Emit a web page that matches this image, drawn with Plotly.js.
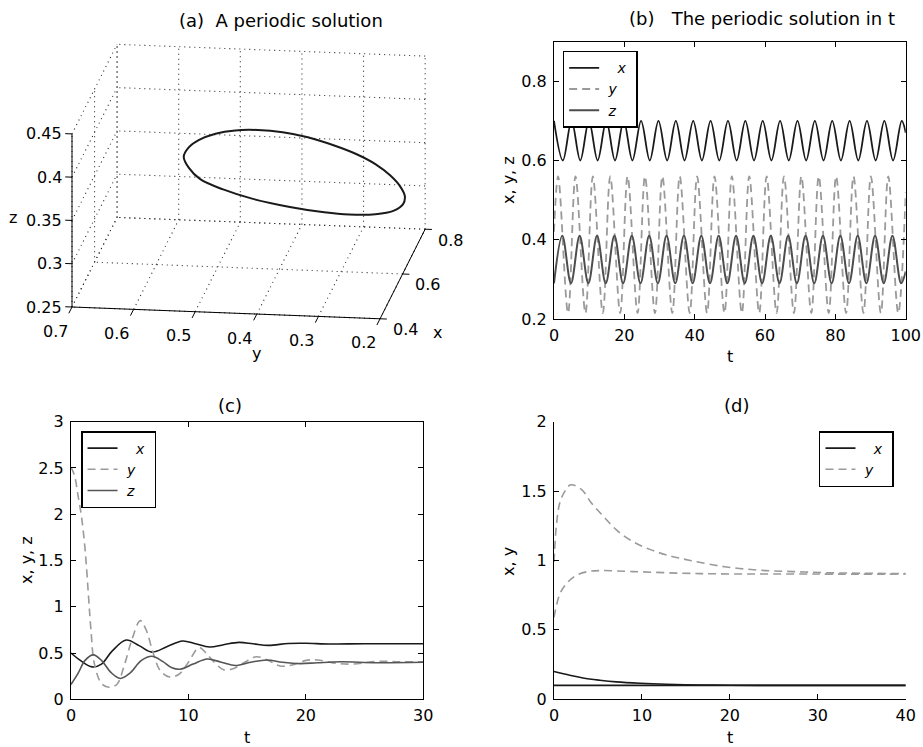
<!DOCTYPE html>
<html>
<head>
<meta charset="utf-8">
<script src="https://cdn.plot.ly/plotly-3.0.1.min.js"></script>
<style>html,body{margin:0;padding:0;background:#fff;}#chart{width:923px;height:747px;}</style>
</head>
<body>
<div id="chart"></div>
<script>
// ---- (a) periodic orbit in (x, y, z) ----
const aLoopX = [0.700,0.698,0.693,0.685,0.675,0.663,0.650,0.637,0.625,0.615,0.607,0.602,0.600,0.602,0.607,0.615,0.625,0.637,0.650,0.663,0.675,0.685,0.693,0.698,0.700];
const aLoopY = [0.305,0.345,0.400,0.460,0.505,0.540,0.556,0.562,0.552,0.533,0.505,0.472,0.435,0.395,0.355,0.316,0.280,0.251,0.229,0.215,0.210,0.215,0.232,0.262,0.305];
const aLoopZ = [0.290,0.292,0.298,0.308,0.320,0.334,0.350,0.366,0.380,0.392,0.402,0.408,0.410,0.408,0.402,0.392,0.380,0.366,0.350,0.334,0.320,0.308,0.298,0.292,0.290];
const aTicksX = [0.4,0.6,0.8];
const aTicksY = [0.7,0.6,0.5,0.4,0.3,0.2];
const aTicksZ = [0.25,0.3,0.35,0.4,0.45];

// ---- (b) periodic solution in t (turning points) ----
const bTx = [0,2.53,5.00,7.47,9.94,12.41,14.88,17.35,19.82,22.29,24.76,27.23,29.70,32.17,34.64,37.11,39.58,42.05,44.52,46.99,49.46,51.93,54.40,56.87,59.34,61.81,64.28,66.75,69.22,71.69,74.16,76.63,79.10,81.57,84.04,86.51,88.98,91.45,93.92,96.39,98.86,100];
const bX  = [0.70,0.60,0.70,0.60,0.70,0.60,0.70,0.60,0.70,0.60,0.70,0.60,0.70,0.60,0.70,0.60,0.70,0.60,0.70,0.60,0.70,0.60,0.70,0.60,0.70,0.60,0.70,0.60,0.70,0.60,0.70,0.60,0.70,0.60,0.70,0.60,0.70,0.60,0.70,0.60,0.70,0.67];
const bTy = [0,1.17,4.00,6.11,8.94,11.05,13.88,15.99,18.82,20.93,23.76,25.87,28.70,30.81,33.64,35.75,38.58,40.69,43.52,45.63,48.46,50.57,53.40,55.51,58.34,60.45,63.28,65.39,68.22,70.33,73.16,75.27,78.10,80.21,83.04,85.15,87.98,90.09,92.92,95.03,97.86,100];
const bY  = [0.42,0.56,0.215,0.56,0.215,0.56,0.215,0.56,0.215,0.56,0.215,0.56,0.215,0.56,0.215,0.56,0.215,0.56,0.215,0.56,0.215,0.56,0.215,0.56,0.215,0.56,0.215,0.56,0.215,0.56,0.215,0.56,0.215,0.56,0.215,0.56,0.215,0.56,0.215,0.56,0.215,0.52];
const bTz = [0,2.36,4.83,7.30,9.77,12.24,14.71,17.18,19.65,22.12,24.59,27.06,29.53,32.00,34.47,36.94,39.41,41.88,44.35,46.82,49.29,51.76,54.23,56.70,59.17,61.64,64.11,66.58,69.05,71.52,73.99,76.46,78.93,81.40,83.87,86.34,88.81,91.28,93.75,96.22,98.69,100];
const bZ  = [0.29,0.41,0.29,0.41,0.29,0.41,0.29,0.41,0.29,0.41,0.29,0.41,0.29,0.41,0.29,0.41,0.29,0.41,0.29,0.41,0.29,0.41,0.29,0.41,0.29,0.41,0.29,0.41,0.29,0.41,0.29,0.41,0.29,0.41,0.29,0.41,0.29,0.41,0.29,0.41,0.29,0.32];

// ---- (c) damped convergence ----
const cTx = [0,0.8,1.8,2.6,3.5,4.7,5.8,6.9,8.2,9.5,10.6,11.8,13,14.3,15.5,16.8,18.5,20,22,25,30];
const cX  = [0.50,0.42,0.35,0.38,0.52,0.64,0.58,0.51,0.57,0.63,0.60,0.565,0.59,0.615,0.60,0.582,0.603,0.605,0.597,0.60,0.60];
const cTy = [0,0.3,0.6,0.9,1.2,1.5,1.7,2.0,2.6,3.2,3.9,4.5,5.2,5.9,6.4,7.0,7.6,8.4,9.2,10.0,10.9,11.5,12.2,13.0,13.8,14.8,15.8,16.8,17.8,18.8,20,21,22.5,24,26,28,30];
const cY  = [2.51,2.42,2.2,1.97,1.62,1.1,0.75,0.38,0.17,0.13,0.16,0.35,0.65,0.85,0.75,0.5,0.31,0.24,0.27,0.4,0.56,0.5,0.4,0.32,0.33,0.4,0.46,0.42,0.36,0.37,0.42,0.425,0.39,0.38,0.41,0.405,0.405];
const cTz = [0,0.6,1.2,1.9,2.6,3.4,4.2,5.0,6.0,6.9,7.8,8.6,9.3,10.4,11.6,12.8,14,15.3,16.7,18,19.5,21,23,26,30];
const cZ  = [0.16,0.28,0.42,0.48,0.42,0.29,0.225,0.28,0.42,0.465,0.41,0.34,0.325,0.38,0.435,0.40,0.365,0.40,0.425,0.40,0.385,0.395,0.405,0.395,0.40];

// ---- (d) two trajectories ----
const dTx1 = [0,1.8,3.3,5.2,7.1,9.8,12.8,16.6,20,25,30,40];
const dX1  = [0.20,0.173,0.153,0.137,0.125,0.115,0.108,0.103,0.101,0.1,0.1,0.1];
const dTx2 = [0,40];
const dX2  = [0.1,0.1];
const dTy1 = [0,0.3,0.68,1.25,1.9,3.15,4.3,5.6,7.1,9.0,10.9,12.8,15.5,19.4,23.4,27.2,31,35,40];
const dY1  = [0.99,1.27,1.42,1.50,1.545,1.51,1.41,1.32,1.22,1.135,1.08,1.04,1.0,0.955,0.93,0.92,0.912,0.908,0.905];
const dTy2 = [0,0.68,1.44,2.4,3.7,5.2,9,14.7,20,30,40];
const dY2  = [0.59,0.76,0.835,0.888,0.918,0.927,0.92,0.908,0.903,0.902,0.902];

const NB = '\u00a0';
const names = {x: NB+NB+NB+'<i>x</i>'+NB, y: NB+'<i>y</i>'+NB, z: NB+'<i>z</i>'+NB};

const FONT = 'DejaVu Sans, Liberation Sans, Arial, sans-serif';
const colX = '#1a1a1a', colY = '#9a9a9a', colZ = '#4d4d4d';
const DASH = '8px,5px';

// ---- orthographic view for panel (a), MATLAB-like view ----
const AZ = -7.9 * Math.PI / 180, EL = 16 * Math.PI / 180;
const ASPECT = {x:1.055, y:1, z:0.579};
const XR = [0.4,0.8], YR = [0.2,0.7], ZR = [0.25,0.45];
function proj(x, y, z){
  const X = (x - XR[0]) / (XR[1] - XR[0]) * ASPECT.x;
  const Y = (y - YR[0]) / (YR[1] - YR[0]) * ASPECT.y;
  const Z = (z - ZR[0]) / (ZR[1] - ZR[0]) * ASPECT.z;
  return [-Math.sin(AZ) * X - Math.cos(AZ) * Y,
          Math.sin(EL) * Math.cos(AZ) * X - Math.sin(EL) * Math.sin(AZ) * Y + Math.cos(EL) * Z];
}
function segs(list){ // list of [[x,y,z],[x,y,z]] -> u,v arrays with gaps
  const u = [], v = [];
  list.forEach(s => { s.forEach(p => { const q = proj(p[0],p[1],p[2]); u.push(q[0]); v.push(q[1]); }); u.push(null); v.push(null); });
  return {u, v};
}
// grid on the three back planes
const gridList = [];
aTicksY.forEach(y => gridList.push([[XR[1],y,ZR[0]],[XR[1],y,ZR[1]]]));
aTicksZ.forEach(z => gridList.push([[XR[1],YR[0],z],[XR[1],YR[1],z]]));
aTicksX.forEach(x => gridList.push([[x,YR[1],ZR[0]],[x,YR[1],ZR[1]]]));
aTicksZ.forEach(z => gridList.push([[XR[0],YR[1],z],[XR[1],YR[1],z]]));
aTicksX.forEach(x => gridList.push([[x,YR[0],ZR[0]],[x,YR[1],ZR[0]]]));
aTicksY.forEach(y => gridList.push([[XR[0],y,ZR[0]],[XR[1],y,ZR[0]]]));
const grid = segs(gridList);
// axis lines and ticks
const axisList = [
  [[XR[0],YR[1],ZR[0]],[XR[0],YR[1],ZR[1]]],
  [[XR[0],YR[1],ZR[0]],[XR[0],YR[0],ZR[0]]],
  [[XR[0],YR[0],ZR[0]],[XR[1],YR[0],ZR[0]]]
];
aTicksZ.forEach(z => axisList.push([[XR[0],YR[1],z],[XR[0],YR[1]+0.011,z]]));
aTicksY.forEach(y => axisList.push([[XR[0],y,ZR[0]],[XR[0]-0.028,y,ZR[0]]]));
aTicksX.forEach(x => axisList.push([[x,YR[0],ZR[0]],[x,YR[0]-0.011,ZR[0]]]));
const axl = segs(axisList);
const loopU = [], loopV = [];
aLoopX.forEach((x,i) => { const q = proj(x, aLoopY[i], aLoopZ[i]); loopU.push(q[0]); loopV.push(q[1]); });

// hidden axes for panel (a): 311 px per projected unit, box corner at page (72,307)
const PX = 311;
const o = proj(XR[0], YR[1], ZR[0]);
const aDomX = [0, 460/923], aDomY = [1 - 370/747, 1];
const aRangeU = [o[0] - 72/PX, o[0] + (460 - 72)/PX];
const aRangeV = [o[1] - (370 - 307)/PX, o[1] + 307/PX];

const traces = [
  {type:'scatter', mode:'lines', x:grid.u, y:grid.v, xaxis:'x4', yaxis:'y4', showlegend:false, hoverinfo:'skip',
   line:{color:'#2a2a2a', width:1.1, dash:'1px,4px'}, connectgaps:false},
  {type:'scatter', mode:'lines', x:axl.u, y:axl.v, xaxis:'x4', yaxis:'y4', showlegend:false, hoverinfo:'skip',
   line:{color:'#000', width:1}, connectgaps:false},
  {type:'scatter', mode:'lines', x:loopU, y:loopV, xaxis:'x4', yaxis:'y4', showlegend:false, hoverinfo:'skip',
   line:{color:'#1a1a1a', width:2, shape:'spline'}},

  {type:'scatter', mode:'lines', x:bTx, y:bX, xaxis:'x', yaxis:'y', name:names.x, legend:'legend',
   line:{color:colX, width:1.8, shape:'spline'}},
  {type:'scatter', mode:'lines', x:bTy, y:bY, xaxis:'x', yaxis:'y', name:names.y, legend:'legend',
   line:{color:colY, width:1.8, shape:'spline', dash:DASH}},
  {type:'scatter', mode:'lines', x:bTz, y:bZ, xaxis:'x', yaxis:'y', name:names.z, legend:'legend',
   line:{color:colZ, width:2, shape:'spline'}},

  {type:'scatter', mode:'lines', x:cTx, y:cX, xaxis:'x2', yaxis:'y2', name:names.x, legend:'legend2',
   line:{color:colX, width:1.6, shape:'spline'}},
  {type:'scatter', mode:'lines', x:cTy, y:cY, xaxis:'x2', yaxis:'y2', name:names.y, legend:'legend2',
   line:{color:colY, width:1.6, shape:'spline', dash:DASH}},
  {type:'scatter', mode:'lines', x:cTz, y:cZ, xaxis:'x2', yaxis:'y2', name:names.z, legend:'legend2',
   line:{color:'#555', width:1.6, shape:'spline'}},

  {type:'scatter', mode:'lines', x:dTx1, y:dX1, xaxis:'x3', yaxis:'y3', name:names.x, legend:'legend3',
   line:{color:colX, width:1.6, shape:'spline'}},
  {type:'scatter', mode:'lines', x:dTy1, y:dY1, xaxis:'x3', yaxis:'y3', name:names.y, legend:'legend3',
   line:{color:colY, width:1.6, shape:'spline', dash:DASH}},
  {type:'scatter', mode:'lines', x:dTx2, y:dX2, xaxis:'x3', yaxis:'y3', showlegend:false,
   line:{color:colX, width:1.6}},
  {type:'scatter', mode:'lines', x:dTy2, y:dY2, xaxis:'x3', yaxis:'y3', showlegend:false,
   line:{color:colY, width:1.6, shape:'spline', dash:DASH}}
];

function ax(extra, mirror, standoff){
  return Object.assign({
    showline:true, linecolor:'#000', linewidth:1, mirror: mirror ? 'ticks' : false,
    ticks:'inside', ticklen:5, tickcolor:'#000', showgrid:false, zeroline:false,
    ticklabelstandoff: standoff,
    tickfont:{family:FONT, size:16, color:'#000'}, fixedrange:true
  }, extra);
}
function legendAt(x, y){
  return {x:x, y:y, xanchor:'left', yanchor:'top', bgcolor:'#fff', bordercolor:'#000', borderwidth:1.5,
          font:{family:FONT, size:14, color:'#000'}, itemclick:false, itemdoubleclick:false};
}
function ann(text, x, y, size, rot){
  return {text:text, x:x, y:y, xref:'paper', yref:'paper', showarrow:false, xanchor:'center', yanchor:'middle',
          textangle: rot || 0, font:{family:FONT, size:size, color:'#000'}};
}
function ann3(text, p, xanchor, xs, ys){
  const q = proj(p[0], p[1], p[2]);
  return {text:text, x:q[0], y:q[1], xref:'x4', yref:'y4', showarrow:false, xanchor:xanchor, yanchor:'middle',
          xshift:xs, yshift:ys, font:{family:FONT, size:16, color:'#000'}};
}

const annotations = [
  ann('(a)&nbsp;&nbsp;A periodic solution', 281/923, 1-20/747, 18),
  ann('(b)&nbsp;&nbsp;&nbsp;The periodic solution in t', 762/923, 1-19/747, 18),
  ann('(c)', 230/923, 1-405/747, 18),
  ann('(d)', 736/923, 1-405/747, 18),
  ann('x, y, z', 508/923, 1-180/747, 16, -90),
  ann('t', 730/923, 1-357/747, 16),
  ann('x, y, z', 26/923, 1-560/747, 16, -90),
  ann('t', 247/923, 1-737/747, 16),
  ann('x, y', 508/923, 1-562/747, 16, -90),
  ann('t', 730/923, 1-737/747, 16),
  ann3('z', [XR[0], YR[1], 0.35], 'center', -59, 3),
  ann3('y', [XR[0], 0.4, ZR[0]], 'center', 0, -39),
  ann3('x', [XR[0], YR[0], ZR[0]], 'center', 57, -14)
];
aTicksZ.forEach(z => annotations.push(ann3(String(z), [XR[0], YR[1], z], 'right', -8, 0)));
aTicksY.forEach(y => annotations.push(ann3(String(y), [XR[0], y, ZR[0]], 'center', -17, -24)));
aTicksX.forEach(x => annotations.push(ann3(String(x), [x, YR[0], ZR[0]], 'center', 25, -11)));

const layout = {
  width:923, height:747, margin:{l:0, r:0, t:0, b:0},
  paper_bgcolor:'#fff', plot_bgcolor:'rgba(0,0,0,0)', showlegend:true,
  font:{family:FONT, color:'#000'},
  xaxis: ax({domain:[0.6002,0.9813], range:[0,100], tickvals:[0,20,40,60,80,100], anchor:'y'}, true, 2),
  yaxis: ax({domain:[0.573,0.9442], range:[0.2,0.9], tickvals:[0.2,0.4,0.6,0.8], anchor:'x'}, true, 3),
  xaxis2: ax({domain:[0.0769,0.4586], range:[0,30], tickvals:[0,10,20,30], anchor:'y2'}, true, 2),
  yaxis2: ax({domain:[0.0639,0.4355], range:[0,3], tickvals:[0,0.5,1,1.5,2,2.5,3], anchor:'x2'}, true, 3),
  xaxis3: ax({domain:[0.6002,0.9813], range:[0,40], tickvals:[0,10,20,30,40], anchor:'y3'}, false, 2),
  yaxis3: ax({domain:[0.0639,0.4355], range:[0,2], tickvals:[0,0.5,1,1.5,2], anchor:'x3'}, false, 3),
  xaxis4: {domain:aDomX, range:aRangeU, visible:false, fixedrange:true, anchor:'y4'},
  yaxis4: {domain:aDomY, range:aRangeV, visible:false, fixedrange:true, anchor:'x4'},
  legend: legendAt(0.6096, 0.9321),
  legend2: legendAt(0.0878, 0.423),
  legend3: legendAt(0.8873, 0.423),
  annotations: annotations
};

Plotly.newPlot('chart', traces, layout, {displayModeBar:false, staticPlot:true});
</script>
</body>
</html>
